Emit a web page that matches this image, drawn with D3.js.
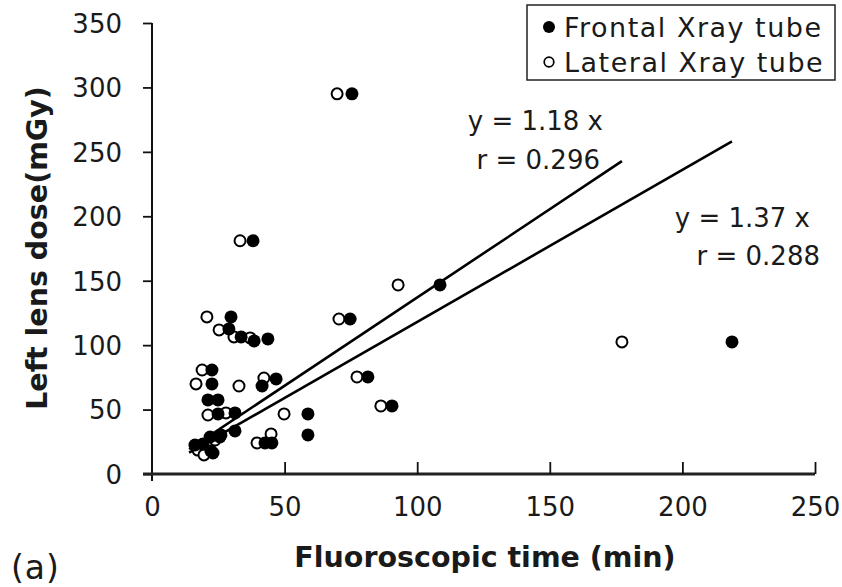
<!DOCTYPE html>
<html>
<head>
<meta charset="utf-8">
<script src="https://cdn.jsdelivr.net/npm/d3@7"></script>
<style>
    body { margin: 0; background: #ffffff; }
    text { font-family: "DejaVu Sans", sans-serif; fill: #1a1a1a; }
</style>
</head>
<body>
<svg id="grafico"></svg>
<script>
// frontal tube (filled dots)
const frontalTime = [75.4, 38.1, 108.6, 29.8, 29.0, 33.6, 38.5, 43.7, 74.7, 22.6, 22.6, 41.5, 46.8,
    21.1, 24.9, 24.9, 31.3, 31.3, 58.8, 58.8, 42.6, 45.2, 81.4, 90.5, 218.7, 19.2, 23.0, 25.6,
    16.2, 22.2, 21.9, 26.0];
const frontalDose = [295, 181, 146.7, 121.9, 112.6, 106.4, 103.3, 104.8, 120.3, 80.7, 69.9, 68.3, 73.8,
    57.5, 57.5, 46.6, 47.4, 33.4, 46.6, 30.3, 24.1, 24.1, 75.3, 52.8, 102.5, 23.3, 16.3, 28.7,
    22.5, 17.9, 28.7, 30.3];
// lateral tube (open dots)
const lateralTime = [69.8, 33.2, 92.8, 20.7, 25.3, 30.9, 37.0, 70.5, 18.9, 16.6, 32.8, 42.2, 77.3,
    86.3, 21.1, 27.9, 49.8, 39.6, 44.9, 177.2, 17.0, 20.0, 17.3, 19.6, 23.8];
const lateralDose = [295, 181, 146.7, 121.9, 111.8, 106.4, 105.6, 120.3, 80.7, 69.9, 68.3, 74.5, 75.3,
    52.8, 45.8, 47.4, 46.6, 24.1, 31.1, 102.5, 21.7, 16.3, 18.6, 14.8, 26.4];

// regression lines as drawn: slope, start and end time
const lineSlope = [1.37, 1.18];
const lineStart = [14, 14];
const lineEnd = [177.2, 218.7];

const xTicks = [0, 50, 100, 150, 200, 250];
const yTicks = [0, 50, 100, 150, 200, 250, 300, 350];
const legendLabels = ['Frontal Xray tube', 'Lateral Xray tube'];
const eqLabels = ['y = 1.18 x', 'r = 0.296', 'y = 1.37 x', 'r = 0.288'];

const ancho = 842;
const alto = 587;

const svg = d3.select('#grafico').attr('width', ancho).attr('height', alto);

let escalaX = d3.scaleLinear().domain([0, 250]).range([152, 815]);
let escalaY = d3.scaleLinear().domain([0, 350]).range([474, 23]);

// y axis, ticks pointing out
let ejeY = d3.axisLeft(escalaY).tickValues(yTicks).tickSize(9).tickPadding(21);
let gY = svg.append('g')
    .attr('transform', 'translate(152,0)')
    .call(ejeY);
gY.select('.domain').attr('d', 'M0,23V481').attr('stroke', '#111').attr('stroke-width', 2);
gY.selectAll('.tick line').attr('stroke', '#111').attr('stroke-width', 1.8);
gY.selectAll('.tick text').style('font-size', '26px').attr('dy', '0.36em');

// x axis, ticks pointing up
let ejeX = d3.axisBottom(escalaX).tickValues(xTicks).tickSize(-12).tickPadding(24);
let gX = svg.append('g')
    .attr('transform', 'translate(0,474)')
    .call(ejeX);
gX.select('.domain').attr('d', 'M143,0H815').attr('stroke', '#222').attr('stroke-width', 3);
gX.selectAll('.tick line').attr('stroke', '#111').attr('stroke-width', 1.8);
gX.selectAll('.tick text').style('font-size', '26px');
gX.selectAll('.tick').filter(function (d) { return d === 0; }).select('line').remove();

// points: lateral first, frontal on top
svg.append('g')
    .selectAll('circle')
    .data(lateralTime).enter()
    .append('circle')
    .attr('cx', function (d) { return escalaX(d); })
    .attr('cy', function (d, i) { return escalaY(lateralDose[i]); })
    .attr('r', 5.5)
    .attr('fill', '#ffffff')
    .attr('stroke', '#000')
    .attr('stroke-width', 2);

svg.append('g')
    .selectAll('circle')
    .data(frontalTime).enter()
    .append('circle')
    .attr('cx', function (d) { return escalaX(d); })
    .attr('cy', function (d, i) { return escalaY(frontalDose[i]); })
    .attr('r', 6.5)
    .attr('fill', '#000');

// fit lines
for (let i = 0; i < lineSlope.length; i++) {
    svg.append('line')
        .attr('x1', escalaX(lineStart[i]))
        .attr('y1', escalaY(lineSlope[i] * lineStart[i]))
        .attr('x2', escalaX(lineEnd[i]))
        .attr('y2', escalaY(lineSlope[i] * lineEnd[i]))
        .attr('stroke', '#000')
        .attr('stroke-width', 2.6);
}

// equations (right aligned)
const eqPos = [[603, 130], [600, 169], [810, 227], [820, 265]];
for (let i = 0; i < eqLabels.length; i++) {
    svg.append('text')
        .attr('x', eqPos[i][0])
        .attr('y', eqPos[i][1])
        .attr('text-anchor', 'end')
        .style('font-size', '26px')
        .text(eqLabels[i]);
}

// legend
svg.append('rect')
    .attr('x', 527).attr('y', 5)
    .attr('width', 308).attr('height', 75)
    .attr('fill', '#fff')
    .attr('stroke', '#222')
    .attr('stroke-width', 1.5);
svg.append('circle').attr('cx', 549).attr('cy', 27).attr('r', 6).attr('fill', '#000');
svg.append('circle').attr('cx', 549).attr('cy', 62).attr('r', 4.8)
    .attr('fill', '#fff').attr('stroke', '#000').attr('stroke-width', 1.7);
svg.append('text').attr('x', 564).attr('y', 37).style('font-size', '27px')
    .style('letter-spacing', '1.5px').text(legendLabels[0]);
svg.append('text').attr('x', 564).attr('y', 72).style('font-size', '27px')
    .style('letter-spacing', '1.5px').text(legendLabels[1]);

// axis titles
svg.append('text')
    .attr('x', 485).attr('y', 567)
    .attr('text-anchor', 'middle')
    .style('font-size', '28.5px')
    .style('font-weight', 'bold')
    .text('Fluoroscopic time (min)');
svg.append('text')
    .attr('transform', 'translate(47,248) rotate(-90)')
    .attr('text-anchor', 'middle')
    .style('font-size', '28.5px')
    .style('font-weight', 'bold')
    .text('Left lens dose(mGy)');
svg.append('text')
    .attr('x', 11).attr('y', 579)
    .style('font-size', '33px')
    .style('letter-spacing', '1px')
    .text('(a)');
</script>
</body>
</html>
